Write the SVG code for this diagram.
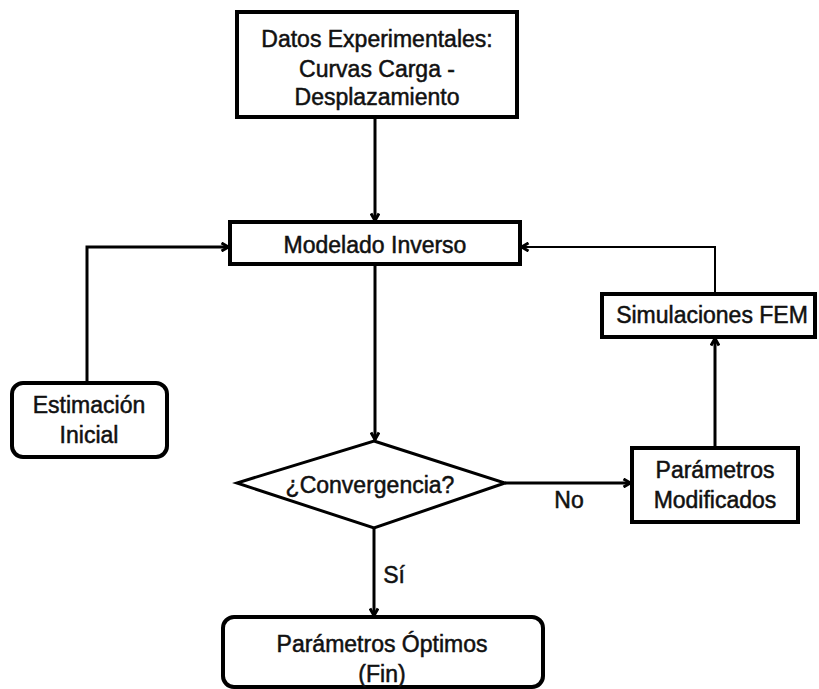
<svg xmlns="http://www.w3.org/2000/svg" width="819" height="689" viewBox="0 0 819 689">
  <style>
    .box { fill: #ffffff; stroke: #000000; stroke-width: 4; }
    .dia { stroke-width: 3; }
    .lbl { font-family: "Liberation Sans", Arial, sans-serif; font-size: 23px; fill: #111111; stroke: #111111; stroke-width: 0.5; text-anchor: middle; }
    .edge { fill: none; stroke: #000000; stroke-width: 3; }
    .thin { stroke-width: 2; }
  </style>
  <defs>
    <marker id="arrow" viewBox="0 0 10 10" refX="9" refY="5" markerWidth="10" markerHeight="10" markerUnits="userSpaceOnUse" orient="auto">
      <path d="M1.5,1 L8.5,5 L1.5,9" fill="none" stroke="#000000" stroke-width="3"/>
    </marker>
  </defs>

  <rect width="819" height="689" fill="#ffffff"/>

  <!-- connectors -->
  <g id="connectors">
    <path class="edge" d="M375,117 V221" marker-end="url(#arrow)"/>
    <path class="edge" d="M87,383 V247 H229" marker-end="url(#arrow)"/>
    <path class="edge" d="M375,264 V440" marker-end="url(#arrow)"/>
    <path class="edge" d="M505,483 H631" marker-end="url(#arrow)"/>
    <path class="edge" d="M715,448 V338" marker-end="url(#arrow)"/>
    <path class="edge thin" d="M715,294 V247 H521" marker-end="url(#arrow)"/>
    <path class="edge" d="M374,528 V616" marker-end="url(#arrow)"/>
    <text class="lbl" x="394" y="583">Sí</text>
    <text class="lbl" x="569" y="508">No</text>
  </g>

  <g id="datos">
    <rect class="box" x="237" y="12" width="280" height="105"/>
    <text class="lbl" x="377" y="47">Datos Experimentales:</text>
    <text class="lbl" x="377" y="77">Curvas Carga -</text>
    <text class="lbl" x="377" y="105">Desplazamiento</text>
  </g>

  <g id="modelado">
    <rect class="box" x="230" y="222" width="290" height="42"/>
    <text class="lbl" x="375" y="253">Modelado Inverso</text>
  </g>

  <g id="estimacion">
    <rect class="box" x="12" y="383" width="155" height="74" rx="11"/>
    <text class="lbl" x="89" y="413">Estimación</text>
    <text class="lbl" x="89" y="443">Inicial</text>
  </g>

  <g id="convergencia">
    <polygon class="box dia" points="374,441 505,483 374,528 237,483"/>
    <text class="lbl" x="370" y="493">¿Convergencia?</text>
  </g>

  <g id="optimos">
    <rect class="box" x="223" y="617" width="320" height="70" rx="11"/>
    <text class="lbl" x="382" y="652">Parámetros Óptimos</text>
    <text class="lbl" x="382" y="682">(Fin)</text>
  </g>

  <g id="modificados">
    <rect class="box" x="632" y="448" width="166" height="74"/>
    <text class="lbl" x="715" y="478">Parámetros</text>
    <text class="lbl" x="715" y="508">Modificados</text>
  </g>

  <g id="fem">
    <rect class="box" x="602" y="294" width="213" height="43"/>
    <text class="lbl" x="712" y="323">Simulaciones FEM</text>
  </g>
</svg>
